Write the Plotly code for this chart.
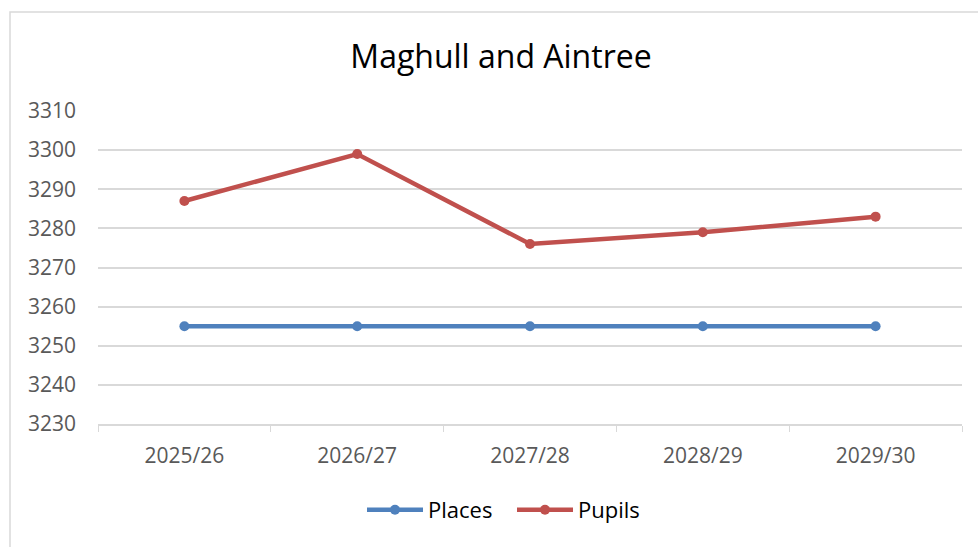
import plotly.graph_objects as go

categories = ["2025/26", "2026/27", "2027/28", "2028/29", "2029/30"]
places = [3255, 3255, 3255, 3255, 3255]
pupils = [3287, 3299, 3276, 3279, 3283]
y_ticks = [3230, 3240, 3250, 3260, 3270, 3280, 3290, 3300, 3310]

FONT = "Open Sans, Liberation Sans, sans-serif"

fig = go.Figure()
fig.add_trace(go.Scatter(x=categories, y=places, name="Places", mode="lines+markers",
                         line=dict(color="#4f81bd", width=4.5), marker=dict(size=10, color="#4f81bd")))
fig.add_trace(go.Scatter(x=categories, y=pupils, name="Pupils", mode="lines+markers",
                         line=dict(color="#c0504d", width=4.5), marker=dict(size=10, color="#c0504d")))

fig.update_layout(
    width=978, height=547,
    paper_bgcolor="white", plot_bgcolor="white",
    margin=dict(l=98, r=16, t=111, b=123),
    title=dict(text="Maghull and Aintree", x=501/978, xanchor="center", y=1-57/547, yanchor="middle",
               font=dict(family=FONT, size=32, color="#000000")),
    showlegend=True,
    legend=dict(orientation="h", x=(362-98)/864, xanchor="left", y=(424-510)/313, yanchor="middle",
                font=dict(family=FONT, size=22, color="#000000"), itemwidth=56,
                entrywidth=79, entrywidthmode="pixels"),
    xaxis=dict(type="category", range=[-0.5, len(categories) - 0.5], showgrid=False, showline=True,
               linecolor="#d9d9d9", linewidth=1.5,
               ticks="outside", tickson="boundaries", ticklen=6, tickcolor="#d9d9d9",
               tickfont=dict(family=FONT, size=21, color="#595959"), ticklabelstandoff=12),
    yaxis=dict(range=[3230, 3310], tickvals=y_ticks, showgrid=True, gridcolor="#d9d9d9", gridwidth=1.5,
               zeroline=False, showline=False, ticks="",
               tickfont=dict(family=FONT, size=21, color="#595959"), ticklabelstandoff=21),
    shapes=[dict(type="rect", xref="paper", yref="paper",
                 x0=(10-98)/864, x1=1.2, y0=-0.5, y1=(424-12)/313,
                 line=dict(color="#d9d9d9", width=1.5), fillcolor="rgba(0,0,0,0)", layer="below")],
)

fig.write_html("out.html", config={"displayModeBar": False},
               post_script="document.body.style.margin='0';document.body.style.overflow='hidden';")
